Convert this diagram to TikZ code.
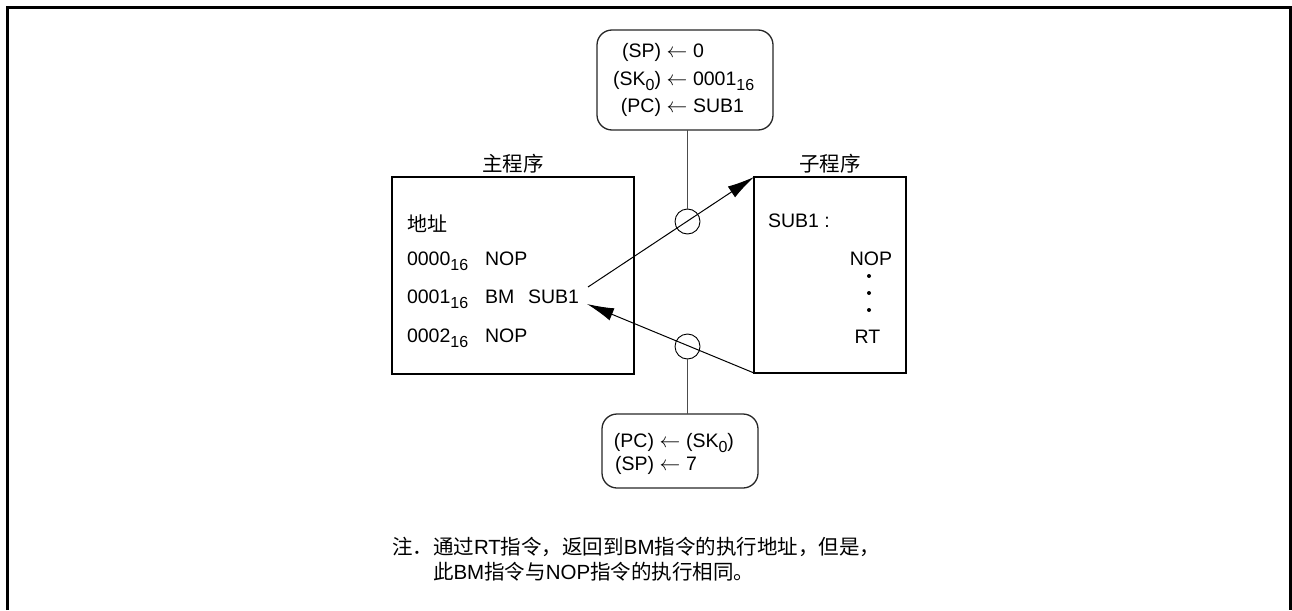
\documentclass[tikz,border=0pt]{standalone}
\usepackage{fontspec}
\setmainfont{Liberation Sans}
\newfontfamily\cjk{Noto Sans CJK SC}
\usetikzlibrary{arrows.meta}
\newcommand\sbs[1]{\raisebox{-5pt}{\fontsize{16}{16}\selectfont #1}}
\begin{document}
\begin{tikzpicture}[x=1pt,y=-1pt,
  txt/.style={inner sep=0pt,outer sep=0pt,font=\fontsize{19.5}{22}\selectfont},
  cjktxt/.style={inner sep=0pt,outer sep=0pt,font=\fontsize{20.5}{24}\selectfont\cjk},
  notetxt/.style={inner sep=0pt,outer sep=0pt,font=\fontsize{20.5}{24}\selectfont},
  prog/.style={draw,line width=2pt,inner sep=0pt,outer sep=0pt},
  rbox/.style={draw=black!85,line width=1.3pt,rounded corners=15pt,inner sep=0pt,outer sep=0pt},
  ring/.style={circle,draw,line width=0.9pt,minimum size=25pt,inner sep=0pt,outer sep=0pt},
  vline/.style={draw=black!70,line width=1pt},
  arr/.style={line width=1pt,-{Latex[length=27pt,width=13pt]}}]
\useasboundingbox (0,0) rectangle (1292,610);
% outer frame (open at bottom)
\draw[line width=3pt] (7.5,610) -- (7.5,7.5) -- (1290,7.5) -- (1290,610);

% program boxes
\node[prog,minimum width=242pt,minimum height=197pt] (main) at (513,275.5) {};
\node[prog,minimum width=152pt,minimum height=196pt] (sub) at (830,275) {};
\node[cjktxt,anchor=base] (mainlbl) at (513,171) {主程序};
\node[cjktxt,anchor=base] (sublbl) at (830,171) {子程序};

% main program contents
\node[cjktxt,anchor=base west,font=\fontsize{20}{24}\selectfont\cjk] (addr) at (407,231) {地址};
\node[txt,anchor=base west] (l0) at (407,265) {\makebox[78pt][l]{0000\sbs{16}}NOP};
\node[txt,anchor=base west] (l1) at (407,303) {\makebox[78pt][l]{0001\sbs{16}}\makebox[43pt][l]{BM}SUB1};
\node[txt,anchor=base west] (l2) at (407,342) {\makebox[78pt][l]{0002\sbs{16}}NOP};

% subroutine contents
\node[txt,anchor=base west] (s0) at (768,227) {SUB1 :};
\node[txt,anchor=base east] (s1) at (892,265) {NOP};
\fill (869,276) circle (2pt) (869,293) circle (2pt) (869,310) circle (2pt);
\node[txt,anchor=base] (s2) at (867.5,343) {RT};

% top rounded box
\node[rbox,minimum width=176pt,minimum height=100pt] (top) at (685,80) {};
\node[txt,anchor=base west] (t1) at (606,58) {\makebox[55pt][r]{(SP)}\makebox[32pt]{$\leftarrow$}0};
\node[txt,anchor=base west] (t2) at (606,85) {\makebox[55pt][r]{(SK\sbs{0})}\makebox[32pt]{$\leftarrow$}0001\sbs{16}};
\node[txt,anchor=base west] (t3) at (606,112) {\makebox[55pt][r]{(PC)}\makebox[32pt]{$\leftarrow$}SUB1};

% bottom rounded box
\node[rbox,minimum width=156pt,minimum height=74pt] (bot) at (680,451) {};
\node[txt,anchor=base west] (b1) at (616,447) {\makebox[38pt][r]{(PC)}\makebox[32pt]{$\leftarrow$}(SK\sbs{0})};
\node[txt,anchor=base west] (b2) at (616,470) {\makebox[38pt][r]{(SP)}\makebox[32pt]{$\leftarrow$}7};

% circles and connectors
\node[ring] (c1) at (687.5,221.5) {};
\node[ring] (c2) at (687.5,346.5) {};
\draw[vline] (c1.north) -- (c1.north |- top.south);
\draw[vline] (c2.south) -- (c2.south |- bot.north);

\coordinate (callfrom) at (588,287);
\coordinate (retto) at (587,304);
\draw[arr] (callfrom) -- (sub.north west);
\draw[arr] (sub.south west) -- (retto);

% note
\node[notetxt,anchor=base west] (n1) at (392,554) {{\cjk 注．通过}RT{\cjk 指令，返回到}BM{\cjk 指令的执行地址，但是，}};
\node[notetxt,anchor=base west] (n2) at (433,579) {{\cjk 此}BM{\cjk 指令与}NOP{\cjk 指令的执行相同。}};
\end{tikzpicture}
\end{document}
